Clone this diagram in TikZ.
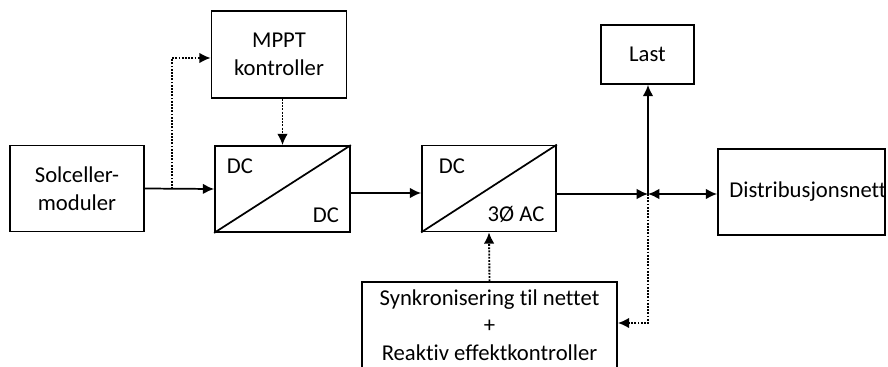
\documentclass[tikz,border=0pt]{standalone}
\usepackage{fontspec}
\setmainfont{Carlito}[Ligatures=NoCommon]
\usetikzlibrary{arrows.meta,calc}
\begin{document}
\begin{tikzpicture}[x=0.75pt,y=-0.75pt,
  font=\fontsize{17pt}{20.6pt}\selectfont,
  line width=1.3pt,
  blk/.style={draw,rectangle,inner sep=0pt,align=center,line width=1.3pt},
  lbl/.style={inner sep=0pt},
  arr/.style={-{Latex[length=8.5pt,width=8pt]}},
  darr/.style={{Latex[length=8.5pt,width=8pt]}-{Latex[length=8.5pt,width=8pt]}},
  ctl/.style={densely dotted,line width=1.4pt,-{Latex[length=8.5pt,width=8pt]}}]
\useasboundingbox (0,0) rectangle (888,367);
\node[blk,minimum width=100.5pt,minimum height=64.5pt] (sol) at (77,188.5) {Solceller-\\moduler};
\node[blk,minimum width=101.25pt,minimum height=65.25pt] (mppt) at (279,54.5) {MPPT\\kontroller};
\node[blk,minimum width=101.25pt,minimum height=64.5pt] (dcdc) at (282.5,189) {};
\node[blk,minimum width=100.5pt,minimum height=64.5pt] (dcac) at (489,188.5) {};
\node[blk,minimum width=69.75pt,minimum height=44.25pt] (last) at (647.5,54.5) {Last};
\node[blk,minimum width=125.25pt,minimum height=64.5pt] (dist) at (801.5,192) {};
\node[lbl] (distlbl) at (808,192) {Distribusjonsnett};
\node[blk,minimum width=191.25pt,minimum height=64.5pt] (synk) at (489.5,325) {Synkronisering til nettet\\+\\Reaktiv effektkontroller};
% converter diagonals and labels
\draw (dcdc.south west) -- (dcdc.north east);
\draw (dcac.south west) -- (dcac.north east);
\node[lbl] (dc1) at (240,166) {DC};
\node[lbl] (dc2) at (326,215) {DC};
\node[lbl] (dc3) at (452,166) {DC};
\node[lbl] (ac3) at (516,214) {3Ø AC};
% connectors
\coordinate (B) at (172,189);
\coordinate (J) at (648,194);
\coordinate (K) at (648,323);
\draw[arr] (sol.east) -- (dcdc.west);
\draw[ctl] (B) |- ($(mppt.west)+(0,3.5)$);
\draw[ctl] (dcdc.north |- mppt.south) -- (dcdc.north);
\draw[arr] ($(dcdc.east)+(0,4)$) -- ($(dcdc.east -| dcac.west)+(0,4)$);
\draw[arr] (dcac.east |- J) -- (J);
\draw[arr] (J) -- (J |- last.south);
\draw[darr] (J) -- (J -| dist.west);
\draw[ctl] (J) -- (K) -- (K -| synk.east);
\draw[ctl] (synk.north) -- (dcac.south);
\end{tikzpicture}
\end{document}
